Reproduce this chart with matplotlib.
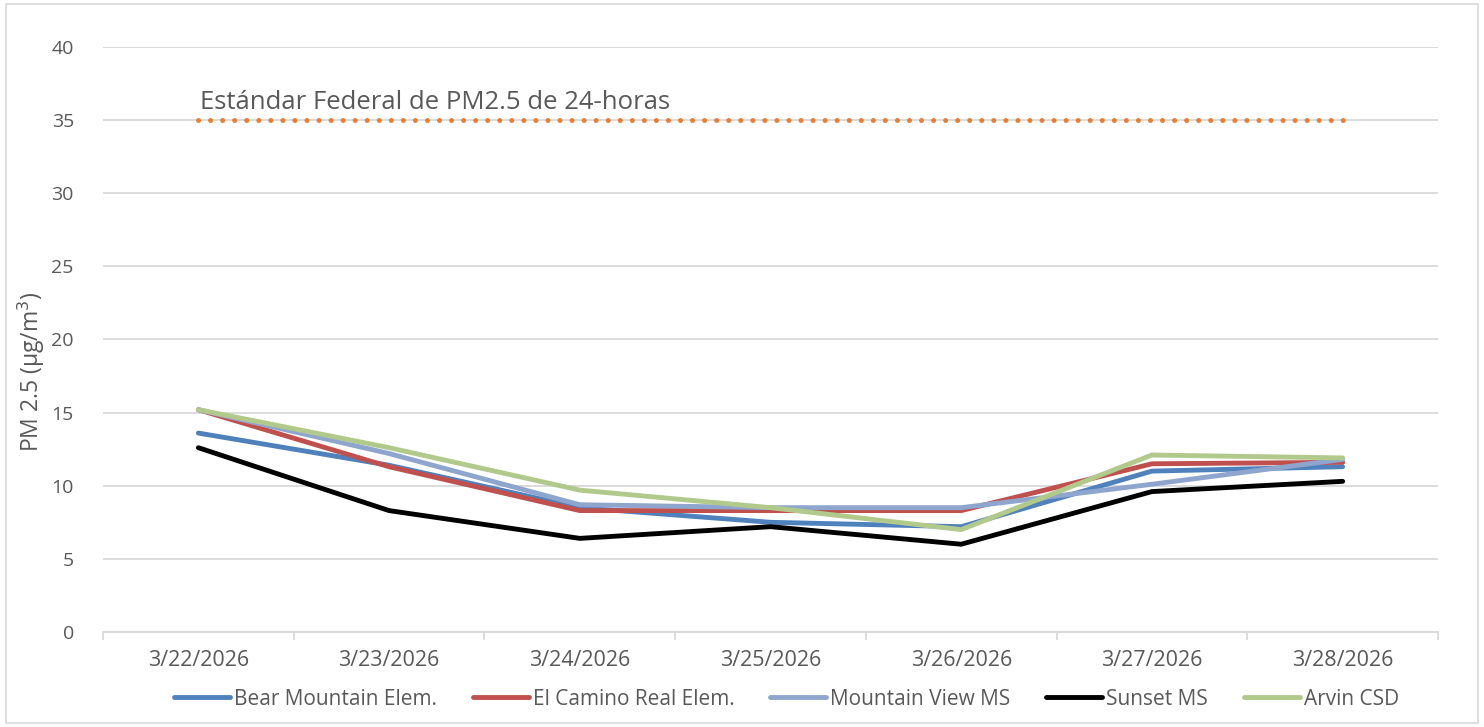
import matplotlib.pyplot as plt
from matplotlib.patches import Rectangle

dates = ["3/22/2026", "3/23/2026", "3/24/2026", "3/25/2026", "3/26/2026", "3/27/2026", "3/28/2026"]
bear_mountain = [13.6, 11.4, 8.5, 7.5, 7.2, 11.0, 11.3]
el_camino = [15.2, 11.3, 8.3, 8.3, 8.3, 11.5, 11.6]
mountain_view = [15.2, 12.2, 8.7, 8.5, 8.5, 10.1, 11.8]
sunset = [12.6, 8.3, 6.4, 7.2, 6.0, 9.6, 10.3]
arvin = [15.2, 12.6, 9.7, 8.5, 7.0, 12.1, 11.9]
federal_std = [35] * 7

series = [
    ("Bear Mountain Elem.", bear_mountain, "#4F81BD"),
    ("El Camino Real Elem.", el_camino, "#C0504D"),
    ("Mountain View MS", mountain_view, "#8EA6CD"),
    ("Sunset MS", sunset, "#000000"),
    ("Arvin CSD", arvin, "#B2C98C"),
]

FONT = ["Open Sans", "DejaVu Sans"]

fig = plt.figure(figsize=(14.84, 7.27), dpi=100)
fig.patches.append(Rectangle((0.004, 0.006), 0.992, 0.988, transform=fig.transFigure,
                             fill=False, edgecolor="#D9D9D9", linewidth=1.2))
ax = fig.add_axes([0.0694, 0.1307, 0.8996, 0.8047])

x = list(range(len(dates)))
ax.plot(x, federal_std, color="#ED7D31", linestyle=(0, (0.01, 2.4)), linewidth=3.6,
        dash_capstyle="round", zorder=2)
ax.text(0.01, 36.2, "Estándar Federal de PM2.5 de 24-horas", fontsize=18.5,
        color="#595959", va="center", ha="left", family=FONT)

for name, vals, col in series:
    ax.plot(x, vals, color=col, linewidth=3.5, label=name, solid_joinstyle="round",
            solid_capstyle="round", zorder=3)

ax.set_xlim(-0.5, len(dates) - 0.5)
ax.set_ylim(0, 40)
ax.set_yticks(range(0, 41, 5))
ax.set_xticks(x)
ax.set_xticklabels(dates)
ax.set_xticks([i - 0.5 for i in range(len(dates) + 1)], minor=True)
ax.grid(axis="y", color="#D9D9D9", linewidth=1.3, zorder=0)
ax.set_axisbelow(True)
for s in ["top", "right", "left"]:
    ax.spines[s].set_visible(False)
ax.spines["bottom"].set_color("#D9D9D9")
ax.spines["bottom"].set_linewidth(1.3)
ax.tick_params(axis="y", length=0, pad=21, labelsize=14, labelcolor="#595959")
ax.tick_params(axis="x", which="major", length=0, pad=13, labelsize=15.5, labelcolor="#595959")
ax.tick_params(axis="x", which="minor", length=6, color="#D9D9D9", width=1.3)
for lbl in ax.get_yticklabels() + ax.get_xticklabels():
    lbl.set_family(FONT)

ax.set_ylabel("PM 2.5 (µg/m$^3$)", fontsize=16.5, color="#595959", family=FONT)
ax.yaxis.set_label_coords(-0.042, 0.444)

leg = ax.legend(loc="upper center", bbox_to_anchor=(0.512, -0.065), ncol=5, frameon=False,
                handlelength=2.7, handletextpad=0.2, columnspacing=1.7,
                prop={"family": FONT, "size": 15})
for t in leg.get_texts():
    t.set_color("#595959")

fig.savefig("out.png", dpi=100)
